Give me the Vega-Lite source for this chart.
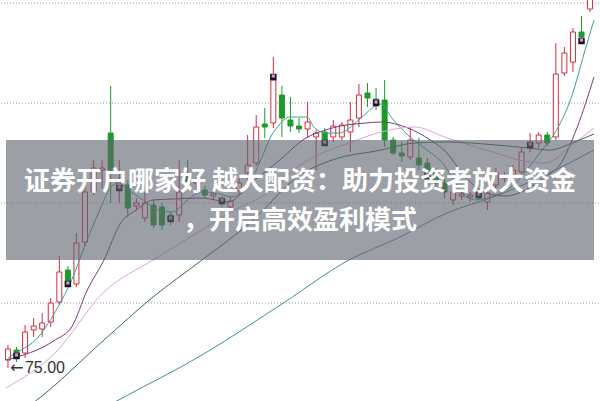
{
  "$schema": "https://vega.github.io/schema/vega-lite/v6.json",
  "width": 600,
  "height": 401,
  "autosize": {"type": "fit", "contains": "padding"},
  "padding": 0,
  "background": "white",
  "config": {"view": {"stroke": null}},
  "datasets": {
    "candles": [
      {"i":0,"o":75.40,"c":75.95,"h":76.15,"l":75.00,"d":"up"},
      {"i":1,"o":75.90,"c":75.65,"h":76.05,"l":75.30,"d":"down"},
      {"i":2,"o":75.75,"c":76.80,"h":77.15,"l":75.50,"d":"up"},
      {"i":3,"o":76.90,"c":77.10,"h":77.50,"l":76.55,"d":"up"},
      {"i":4,"o":76.95,"c":77.25,"h":77.75,"l":76.55,"d":"up"},
      {"i":5,"o":77.30,"c":78.25,"h":78.50,"l":77.05,"d":"up"},
      {"i":6,"o":78.30,"c":79.80,"h":80.60,"l":78.15,"d":"up"},
      {"i":7,"o":79.90,"c":79.30,"h":80.10,"l":79.10,"d":"down"},
      {"i":8,"o":79.20,"c":81.25,"h":81.75,"l":79.05,"d":"up"},
      {"i":9,"o":81.30,"c":83.80,"h":84.90,"l":81.10,"d":"up"},
      {"i":10,"o":83.80,"c":85.00,"h":85.40,"l":83.65,"d":"up"},
      {"i":11,"o":84.90,"c":85.00,"h":85.40,"l":84.00,"d":"up"},
      {"i":12,"o":86.75,"c":84.90,"h":89.10,"l":83.25,"d":"down"},
      {"i":13,"o":84.10,"c":84.30,"h":85.40,"l":83.25,"d":"up"},
      {"i":14,"o":84.15,"c":83.00,"h":84.40,"l":82.55,"d":"down"},
      {"i":15,"o":83.10,"c":83.25,"h":83.50,"l":82.90,"d":"up"},
      {"i":16,"o":82.50,"c":83.25,"h":83.80,"l":82.30,"d":"up"},
      {"i":17,"o":83.15,"c":82.15,"h":83.40,"l":82.00,"d":"down"},
      {"i":18,"o":83.05,"c":82.15,"h":83.25,"l":81.90,"d":"down"},
      {"i":19,"o":82.65,"c":82.40,"h":82.80,"l":82.15,"d":"down"},
      {"i":20,"o":82.65,"c":83.80,"h":85.40,"l":82.30,"d":"up"},
      {"i":21,"o":84.65,"c":84.30,"h":85.40,"l":84.15,"d":"down"},
      {"i":22,"o":84.25,"c":84.30,"h":84.55,"l":83.75,"d":"up"},
      {"i":23,"o":83.90,"c":83.65,"h":84.10,"l":83.50,"d":"down"},
      {"i":24,"o":83.60,"c":83.70,"h":83.90,"l":83.40,"d":"up"},
      {"i":25,"o":83.40,"c":83.20,"h":83.60,"l":83.05,"d":"down"},
      {"i":26,"o":83.05,"c":83.35,"h":83.60,"l":82.90,"d":"up"},
      {"i":27,"o":83.90,"c":84.25,"h":84.50,"l":83.65,"d":"up"},
      {"i":28,"o":84.75,"c":85.15,"h":86.65,"l":84.40,"d":"up"},
      {"i":29,"o":85.25,"c":87.05,"h":87.65,"l":85.10,"d":"up"},
      {"i":30,"o":87.20,"c":87.05,"h":88.00,"l":86.50,"d":"down"},
      {"i":31,"o":87.25,"c":89.40,"h":90.55,"l":87.00,"d":"up"},
      {"i":32,"o":88.65,"c":87.50,"h":89.10,"l":86.55,"d":"down"},
      {"i":33,"o":87.40,"c":87.10,"h":88.55,"l":86.80,"d":"down"},
      {"i":34,"o":87.10,"c":86.95,"h":87.50,"l":86.75,"d":"down"},
      {"i":35,"o":86.95,"c":87.30,"h":88.30,"l":86.50,"d":"up"},
      {"i":36,"o":86.55,"c":86.75,"h":86.90,"l":84.90,"d":"up"},
      {"i":37,"o":86.80,"c":86.40,"h":87.00,"l":86.10,"d":"down"},
      {"i":38,"o":86.55,"c":87.10,"h":87.40,"l":86.30,"d":"up"},
      {"i":39,"o":86.55,"c":87.15,"h":87.30,"l":86.40,"d":"up"},
      {"i":40,"o":86.80,"c":87.40,"h":88.30,"l":85.80,"d":"up"},
      {"i":41,"o":87.50,"c":88.65,"h":89.20,"l":87.05,"d":"up"},
      {"i":42,"o":88.75,"c":88.50,"h":89.25,"l":88.05,"d":"down"},
      {"i":43,"o":88.45,"c":88.25,"h":89.00,"l":87.90,"d":"down"},
      {"i":44,"o":88.40,"c":86.40,"h":89.40,"l":86.05,"d":"down"},
      {"i":45,"o":86.40,"c":85.75,"h":86.55,"l":85.65,"d":"down"},
      {"i":46,"o":85.75,"c":85.60,"h":86.30,"l":85.30,"d":"down"},
      {"i":47,"o":85.55,"c":86.40,"h":87.05,"l":85.40,"d":"up"},
      {"i":48,"o":85.50,"c":85.15,"h":86.50,"l":84.90,"d":"down"},
      {"i":49,"o":85.25,"c":84.80,"h":85.50,"l":84.50,"d":"down"},
      {"i":50,"o":84.80,"c":84.25,"h":85.00,"l":84.00,"d":"down"},
      {"i":51,"o":84.25,"c":83.80,"h":84.50,"l":83.50,"d":"down"},
      {"i":52,"o":83.40,"c":83.80,"h":84.00,"l":83.15,"d":"up"},
      {"i":53,"o":83.60,"c":83.70,"h":83.90,"l":83.40,"d":"up"},
      {"i":54,"o":83.55,"c":83.65,"h":83.80,"l":83.30,"d":"up"},
      {"i":55,"o":83.75,"c":83.50,"h":83.90,"l":83.40,"d":"down"},
      {"i":56,"o":83.30,"c":83.75,"h":84.00,"l":82.90,"d":"up"},
      {"i":57,"o":84.15,"c":84.75,"h":85.00,"l":83.90,"d":"up"},
      {"i":58,"o":84.50,"c":84.55,"h":84.80,"l":84.30,"d":"up"},
      {"i":59,"o":84.65,"c":84.90,"h":85.15,"l":84.40,"d":"up"},
      {"i":60,"o":84.80,"c":85.80,"h":86.00,"l":84.65,"d":"up"},
      {"i":61,"o":86.00,"c":86.25,"h":86.75,"l":85.80,"d":"up"},
      {"i":62,"o":86.25,"c":86.65,"h":86.80,"l":86.00,"d":"up"},
      {"i":63,"o":86.65,"c":86.25,"h":86.80,"l":86.10,"d":"down"},
      {"i":64,"o":86.55,"c":89.70,"h":91.25,"l":86.40,"d":"up"},
      {"i":65,"o":89.75,"c":90.75,"h":91.05,"l":89.60,"d":"up"},
      {"i":66,"o":90.30,"c":91.80,"h":92.00,"l":89.80,"d":"up"},
      {"i":67,"o":91.80,"c":91.55,"h":92.60,"l":91.40,"d":"down"},
      {"i":68,"o":92.95,"c":93.60,"h":93.80,"l":92.80,"d":"up"}
    ],
    "markers": [
      {"i":1,"p":75.60},{"i":7,"p":79.20},{"i":13,"p":84.00},{"i":19,"p":82.45},
      {"i":25,"p":83.35},{"i":31,"p":89.55},{"i":37,"p":86.25},{"i":43,"p":88.25},
      {"i":49,"p":84.60},{"i":55,"p":83.65},{"i":61,"p":86.15},{"i":67,"p":91.35}
    ],
    "ma": [
      {"line":"MA5","i":0.0,"p":75.50},{"line":"MA5","i":0.92,"p":75.75},{"line":"MA5","i":3.55,"p":76.55},
      {"line":"MA5","i":5.84,"p":78.05},{"line":"MA5","i":7.44,"p":79.40},{"line":"MA5","i":8.93,"p":81.05},
      {"line":"MA5","i":10.88,"p":83.05},{"line":"MA5","i":12.02,"p":84.05},{"line":"MA5","i":12.94,"p":84.25},
      {"line":"MA5","i":14.08,"p":83.90},{"line":"MA5","i":15.80,"p":83.40},{"line":"MA5","i":17.52,"p":82.90},
      {"line":"MA5","i":19.23,"p":82.80},{"line":"MA5","i":20.95,"p":83.40},{"line":"MA5","i":22.67,"p":83.80},
      {"line":"MA5","i":24.38,"p":83.75},{"line":"MA5","i":26.10,"p":83.55},{"line":"MA5","i":27.82,"p":84.00},
      {"line":"MA5","i":29.54,"p":85.40},{"line":"MA5","i":30.68,"p":86.55},{"line":"MA5","i":31.48,"p":87.05},
      {"line":"MA5","i":32.97,"p":87.55},{"line":"MA5","i":34.92,"p":87.55},{"line":"MA5","i":35.83,"p":87.00},
      {"line":"MA5","i":37.21,"p":86.75},{"line":"MA5","i":38.69,"p":86.75},{"line":"MA5","i":40.98,"p":87.40},
      {"line":"MA5","i":42.93,"p":88.10},{"line":"MA5","i":43.62,"p":88.20},{"line":"MA5","i":44.76,"p":87.55},
      {"line":"MA5","i":46.71,"p":86.65},{"line":"MA5","i":48.65,"p":86.00},{"line":"MA5","i":50.94,"p":85.15},
      {"line":"MA5","i":52.43,"p":84.15},{"line":"MA5","i":53.58,"p":83.55},{"line":"MA5","i":54.72,"p":83.40},
      {"line":"MA5","i":57.01,"p":83.65},{"line":"MA5","i":59.30,"p":84.25},{"line":"MA5","i":60.79,"p":85.00},
      {"line":"MA5","i":62.39,"p":85.90},{"line":"MA5","i":63.88,"p":86.75},{"line":"MA5","i":65.83,"p":88.55},
      {"line":"MA5","i":67.32,"p":90.75},{"line":"MA5","i":68.46,"p":92.40},

      {"line":"MA10","i":-0.23,"p":75.40},{"line":"MA10","i":5.50,"p":76.40},{"line":"MA10","i":7.44,"p":77.05},
      {"line":"MA10","i":9.27,"p":78.90},{"line":"MA10","i":11.22,"p":80.40},{"line":"MA10","i":13.17,"p":82.25},
      {"line":"MA10","i":15.00,"p":82.90},{"line":"MA10","i":16.94,"p":83.40},{"line":"MA10","i":19.23,"p":83.45},
      {"line":"MA10","i":22.67,"p":83.50},{"line":"MA10","i":25.76,"p":83.30},{"line":"MA10","i":28.39,"p":84.25},
      {"line":"MA10","i":32.17,"p":85.55},{"line":"MA10","i":34.12,"p":86.30},{"line":"MA10","i":37.89,"p":87.00},
      {"line":"MA10","i":41.79,"p":87.25},{"line":"MA10","i":43.62,"p":87.30},{"line":"MA10","i":46.71,"p":87.00},
      {"line":"MA10","i":49.34,"p":86.40},{"line":"MA10","i":51.29,"p":85.75},{"line":"MA10","i":53.23,"p":84.65},
      {"line":"MA10","i":55.87,"p":83.75},{"line":"MA10","i":58.16,"p":83.60},{"line":"MA10","i":60.45,"p":83.90},
      {"line":"MA10","i":62.74,"p":84.55},{"line":"MA10","i":64.46,"p":85.15},{"line":"MA10","i":66.51,"p":87.05},
      {"line":"MA10","i":68.46,"p":89.55},

      {"line":"MA20","i":-0.23,"p":74.00},{"line":"MA20","i":5.50,"p":75.75},{"line":"MA20","i":11.22,"p":78.80},
      {"line":"MA20","i":16.94,"p":80.40},{"line":"MA20","i":22.67,"p":81.90},{"line":"MA20","i":26.45,"p":82.90},
      {"line":"MA20","i":30.34,"p":83.75},{"line":"MA20","i":34.12,"p":85.15},{"line":"MA20","i":39.84,"p":86.25},
      {"line":"MA20","i":43.62,"p":86.80},{"line":"MA20","i":47.51,"p":87.05},{"line":"MA20","i":51.29,"p":86.50},
      {"line":"MA20","i":57.01,"p":85.75},{"line":"MA20","i":59.65,"p":85.40},{"line":"MA20","i":62.74,"p":85.25},
      {"line":"MA20","i":66.17,"p":86.25},{"line":"MA20","i":68.46,"p":87.00},

      {"line":"MA30","i":2.06,"p":73.00},{"line":"MA30","i":3.21,"p":73.35},{"line":"MA30","i":11.22,"p":76.40},
      {"line":"MA30","i":16.94,"p":78.55},{"line":"MA30","i":22.67,"p":80.40},{"line":"MA30","i":28.39,"p":82.30},
      {"line":"MA30","i":34.12,"p":84.65},{"line":"MA30","i":37.89,"p":85.40},{"line":"MA30","i":43.62,"p":85.90},
      {"line":"MA30","i":47.51,"p":86.25},{"line":"MA30","i":51.29,"p":86.30},{"line":"MA30","i":57.01,"p":86.15},
      {"line":"MA30","i":60.79,"p":86.00},{"line":"MA30","i":63.30,"p":85.90},{"line":"MA30","i":66.17,"p":86.30},
      {"line":"MA30","i":68.46,"p":86.70},

      {"line":"MA60","i":11.22,"p":73.00},{"line":"MA60","i":12.71,"p":73.35},{"line":"MA60","i":22.67,"p":75.65},
      {"line":"MA60","i":32.17,"p":78.25},{"line":"MA60","i":39.84,"p":80.40},{"line":"MA60","i":45.56,"p":81.50},
      {"line":"MA60","i":51.29,"p":82.75},{"line":"MA60","i":57.01,"p":83.60},{"line":"MA60","i":62.74,"p":84.65},
      {"line":"MA60","i":68.46,"p":85.90}
    ]
  },
  "layer": [
    {
      "data": {"values": [{"g":93.25},{"g":88.25},{"g":83.25},{"g":78.25}]},
      "mark": {"type": "rule", "color": "#9a9a9a", "strokeWidth": 1, "strokeDash": [1, 2]},
      "encoding": {
        "y": {"field": "g", "type": "quantitative", "scale": {"domain": [73.35, 93.4], "nice": false, "zero": false}, "axis": null}
      }
    },
    {
      "data": {"name": "candles"},
      "mark": {"type": "rule", "strokeWidth": 1, "clip": true},
      "encoding": {
        "x": {"field": "i", "type": "quantitative", "scale": {"domain": [-0.229, 68.46], "nice": false, "zero": false}, "axis": null},
        "y": {"field": "l", "type": "quantitative", "scale": {"domain": [73.35, 93.4], "nice": false, "zero": false}, "axis": null},
        "y2": {"field": "h"},
        "color": {"field": "d", "type": "nominal", "scale": {"domain": ["up", "down"], "range": ["#d42c3c", "#1d9a2a"]}, "legend": null}
      }
    },
    {
      "data": {"name": "candles"},
      "mark": {"type": "bar", "size": 5, "strokeWidth": 1, "clip": true},
      "encoding": {
        "x": {"field": "i", "type": "quantitative", "scale": {"domain": [-0.229, 68.46], "nice": false, "zero": false}, "axis": null},
        "y": {"field": "o", "type": "quantitative", "scale": {"domain": [73.35, 93.4], "nice": false, "zero": false}, "axis": null},
        "y2": {"field": "c"},
        "fill": {"field": "d", "type": "nominal", "scale": {"domain": ["up", "down"], "range": ["#ffffff", "#1d9a2a"]}, "legend": null},
        "stroke": {"field": "d", "type": "nominal", "scale": {"domain": ["up", "down"], "range": ["#d42c3c", "#1d9a2a"]}, "legend": null}
      }
    },
    {
      "data": {"name": "ma"},
      "mark": {"type": "line", "strokeWidth": 1, "interpolate": "monotone", "clip": true},
      "encoding": {
        "x": {"field": "i", "type": "quantitative", "scale": {"domain": [-0.229, 68.46], "nice": false, "zero": false}, "axis": null},
        "y": {"field": "p", "type": "quantitative", "scale": {"domain": [73.35, 93.4], "nice": false, "zero": false}, "axis": null},
        "color": {"field": "line", "type": "nominal", "scale": {"domain": ["MA5", "MA10", "MA20", "MA30", "MA60"], "range": ["#3f9f9f", "#7a3a7a", "#e2a2e2", "#3a6e44", "#3f8e9c"]}, "legend": null}
      }
    },
    {
      "data": {"name": "markers"},
      "mark": {"type": "square", "size": 42, "filled": true, "color": "#15151f", "opacity": 1},
      "encoding": {
        "x": {"field": "i", "type": "quantitative", "scale": {"domain": [-0.229, 68.46], "nice": false, "zero": false}, "axis": null},
        "y": {"field": "p", "type": "quantitative", "scale": {"domain": [73.35, 93.4], "nice": false, "zero": false}, "axis": null}
      }
    },
    {
      "data": {"name": "markers"},
      "mark": {"type": "square", "size": 10, "filled": true, "color": "#e48fe4", "opacity": 1, "yOffset": -1},
      "encoding": {
        "x": {"field": "i", "type": "quantitative", "scale": {"domain": [-0.229, 68.46], "nice": false, "zero": false}, "axis": null},
        "y": {"field": "p", "type": "quantitative", "scale": {"domain": [73.35, 93.4], "nice": false, "zero": false}, "axis": null}
      }
    },
    {
      "data": {"values": [{}]},
      "mark": {"type": "rect", "color": "#5f6470", "opacity": 0.62},
      "encoding": {
        "x": {"datum": -0.229, "type": "quantitative", "scale": {"domain": [-0.229, 68.46], "nice": false, "zero": false}, "axis": null},
        "x2": {"datum": 68.46},
        "y": {"datum": 86.40, "type": "quantitative", "scale": {"domain": [73.35, 93.4], "nice": false, "zero": false}, "axis": null},
        "y2": {"datum": 80.40}
      }
    },
    {
      "data": {"values": [{}]},
      "mark": {"type": "text", "text": "证券开户哪家好 越大配资：助力投资者放大资金", "font": "Noto Sans CJK SC", "fontSize": 26, "fontWeight": "bold", "color": "#ffffff", "align": "center", "baseline": "middle"},
      "encoding": {
        "x": {"datum": 34.116, "type": "quantitative", "scale": {"domain": [-0.229, 68.46], "nice": false, "zero": false}, "axis": null},
        "y": {"datum": 84.30, "type": "quantitative", "scale": {"domain": [73.35, 93.4], "nice": false, "zero": false}, "axis": null}
      }
    },
    {
      "data": {"values": [{}]},
      "mark": {"type": "text", "text": "，开启高效盈利模式", "font": "Noto Sans CJK SC", "fontSize": 26, "fontWeight": "bold", "color": "#ffffff", "align": "center", "baseline": "middle"},
      "encoding": {
        "x": {"datum": 34.116, "type": "quantitative", "scale": {"domain": [-0.229, 68.46], "nice": false, "zero": false}, "axis": null},
        "y": {"datum": 82.35, "type": "quantitative", "scale": {"domain": [73.35, 93.4], "nice": false, "zero": false}, "axis": null}
      }
    },
    {
      "data": {"values": [{}]},
      "mark": {"type": "text", "text": "←", "font": "DejaVu Sans", "fontSize": 16, "color": "#333333", "align": "left", "baseline": "middle", "dx": 2},
      "encoding": {
        "x": {"datum": 0, "type": "quantitative", "scale": {"domain": [-0.229, 68.46], "nice": false, "zero": false}, "axis": null},
        "y": {"datum": 75.0, "type": "quantitative", "scale": {"domain": [73.35, 93.4], "nice": false, "zero": false}, "axis": null}
      }
    },
    {
      "data": {"values": [{}]},
      "mark": {"type": "text", "text": "75.00", "font": "Liberation Sans", "fontSize": 16, "color": "#333333", "align": "left", "baseline": "middle", "dx": 17},
      "encoding": {
        "x": {"datum": 0, "type": "quantitative", "scale": {"domain": [-0.229, 68.46], "nice": false, "zero": false}, "axis": null},
        "y": {"datum": 75.0, "type": "quantitative", "scale": {"domain": [73.35, 93.4], "nice": false, "zero": false}, "axis": null}
      }
    }
  ],
  "resolve": {"scale": {"color": "independent", "fill": "independent", "stroke": "independent"}}
}
